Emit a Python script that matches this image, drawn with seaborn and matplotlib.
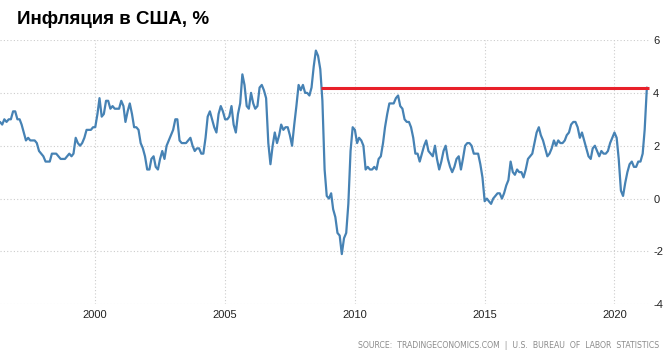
import numpy as np
import pandas as pd
import matplotlib
matplotlib.use("Agg")
import matplotlib.pyplot as plt
import matplotlib.dates as mdates
import seaborn as sns

# US CPI, year-over-year change (%), monthly, May 1996 - Apr 2021
cpi_1996 = [2.9, 2.8, 3.0, 2.9, 3.0, 3.0, 3.3, 3.3]  # May-Dec
cpi_1997 = [3.0, 3.0, 2.8, 2.5, 2.2, 2.3, 2.2, 2.2, 2.2, 2.1, 1.8, 1.7]
cpi_1998 = [1.6, 1.4, 1.4, 1.4, 1.7, 1.7, 1.7, 1.6, 1.5, 1.5, 1.5, 1.6]
cpi_1999 = [1.7, 1.6, 1.7, 2.3, 2.1, 2.0, 2.1, 2.3, 2.6, 2.6, 2.6, 2.7]
cpi_2000 = [2.7, 3.2, 3.8, 3.1, 3.2, 3.7, 3.7, 3.4, 3.5, 3.4, 3.4, 3.4]
cpi_2001 = [3.7, 3.5, 2.9, 3.3, 3.6, 3.2, 2.7, 2.7, 2.6, 2.1, 1.9, 1.6]
cpi_2002 = [1.1, 1.1, 1.5, 1.6, 1.2, 1.1, 1.5, 1.8, 1.5, 2.0, 2.2, 2.4]
cpi_2003 = [2.6, 3.0, 3.0, 2.2, 2.1, 2.1, 2.1, 2.2, 2.3, 2.0, 1.8, 1.9]
cpi_2004 = [1.9, 1.7, 1.7, 2.3, 3.1, 3.3, 3.0, 2.7, 2.5, 3.2, 3.5, 3.3]
cpi_2005 = [3.0, 3.0, 3.1, 3.5, 2.8, 2.5, 3.2, 3.6, 4.7, 4.3, 3.5, 3.4]
cpi_2006 = [4.0, 3.6, 3.4, 3.5, 4.2, 4.3, 4.1, 3.8, 2.1, 1.3, 2.0, 2.5]
cpi_2007 = [2.1, 2.4, 2.8, 2.6, 2.7, 2.7, 2.4, 2.0, 2.8, 3.5, 4.3, 4.1]
cpi_2008 = [4.3, 4.0, 4.0, 3.9, 4.2, 5.0, 5.6, 5.4, 4.9, 3.7, 1.1, 0.1]
cpi_2009 = [0.0, 0.2, -0.4, -0.7, -1.3, -1.4, -2.1, -1.5, -1.3, -0.2, 1.8, 2.7]
cpi_2010 = [2.6, 2.1, 2.3, 2.2, 2.0, 1.1, 1.2, 1.1, 1.1, 1.2, 1.1, 1.5]
cpi_2011 = [1.6, 2.1, 2.7, 3.2, 3.6, 3.6, 3.6, 3.8, 3.9, 3.5, 3.4, 3.0]
cpi_2012 = [2.9, 2.9, 2.7, 2.3, 1.7, 1.7, 1.4, 1.7, 2.0, 2.2, 1.8, 1.7]
cpi_2013 = [1.6, 2.0, 1.5, 1.1, 1.4, 1.8, 2.0, 1.5, 1.2, 1.0, 1.2, 1.5]
cpi_2014 = [1.6, 1.1, 1.5, 2.0, 2.1, 2.1, 2.0, 1.7, 1.7, 1.7, 1.3, 0.8]
cpi_2015 = [-0.1, 0.0, -0.1, -0.2, 0.0, 0.1, 0.2, 0.2, 0.0, 0.2, 0.5, 0.7]
cpi_2016 = [1.4, 1.0, 0.9, 1.1, 1.0, 1.0, 0.8, 1.1, 1.5, 1.6, 1.7, 2.1]
cpi_2017 = [2.5, 2.7, 2.4, 2.2, 1.9, 1.6, 1.7, 1.9, 2.2, 2.0, 2.2, 2.1]
cpi_2018 = [2.1, 2.2, 2.4, 2.5, 2.8, 2.9, 2.9, 2.7, 2.3, 2.5, 2.2, 1.9]
cpi_2019 = [1.6, 1.5, 1.9, 2.0, 1.8, 1.6, 1.8, 1.7, 1.7, 1.8, 2.1, 2.3]
cpi_2020 = [2.5, 2.3, 1.5, 0.3, 0.1, 0.6, 1.0, 1.3, 1.4, 1.2, 1.2, 1.4]
cpi_2021 = [1.4, 1.7, 2.6, 4.2]  # Jan-Apr

values = (cpi_1996 + cpi_1997 + cpi_1998 + cpi_1999 + cpi_2000 + cpi_2001
          + cpi_2002 + cpi_2003 + cpi_2004 + cpi_2005 + cpi_2006 + cpi_2007
          + cpi_2008 + cpi_2009 + cpi_2010 + cpi_2011 + cpi_2012 + cpi_2013
          + cpi_2014 + cpi_2015 + cpi_2016 + cpi_2017 + cpi_2018 + cpi_2019
          + cpi_2020 + cpi_2021)
dates = pd.date_range("1996-05-01", periods=len(values), freq="MS")
df = pd.DataFrame({"date": dates, "cpi": values})

# red reference level (latest reading)
ref_level = 4.2
ref_start = pd.Timestamp("2008-09-10")
ref_end = pd.Timestamp("2021-05-08")

year_ticks = [2000, 2005, 2010, 2015, 2020]
y_ticks = [-4, -2, 0, 2, 4, 6]

sns.set_style("white")
plt.rcParams["font.family"] = ["DejaVu Sans"]
plt.rcParams["axes.unicode_minus"] = False

fig = plt.figure(figsize=(6.72, 3.55), dpi=100)
ax = fig.add_axes([0.0, 1 - 304.3 / 355, 649 / 672, (304.3 - 40) / 355])

sns.lineplot(data=df, x="date", y="cpi", ax=ax, color="#4682b4", linewidth=1.6, zorder=3)
ax.hlines(ref_level, ref_start, ref_end, color="#e8202a", linewidth=2.2, zorder=4,
          clip_on=False)

ax.set_xlim(pd.Timestamp("1996-05-01"), pd.Timestamp("2021-05-01"))
ax.set_ylim(-4, 6)
ax.set_xticks([pd.Timestamp(f"{y}-01-01") for y in year_ticks])
ax.xaxis.set_major_formatter(mdates.DateFormatter("%Y"))
ax.set_yticks(y_ticks)
ax.set_yticklabels([str(v) for v in y_ticks])
ax.yaxis.tick_right()
ax.set_xlabel("")
ax.set_ylabel("")

ax.grid(True, color="#cccccc", linestyle=(0, (1, 2)), linewidth=0.8)
for s in ax.spines.values():
    s.set_visible(False)
ax.tick_params(axis="both", length=0, labelsize=8, colors="#222222")
ax.tick_params(axis="x", pad=4)
ax.tick_params(axis="y", pad=3)
for lab in ax.get_xticklabels() + ax.get_yticklabels():
    lab.set_family("Liberation Sans")

fig.text(17 / 672, 1 - 20 / 355, "Инфляция в США, %", fontsize=13.5, fontweight="bold",
         family="Liberation Sans", va="center", ha="left", color="black")
fig.text(659 / 672, 1 - 346 / 355,
         "SOURCE:  TRADINGECONOMICS.COM  |  U.S.  BUREAU  OF  LABOR  STATISTICS",
         fontsize=5.6, color="#8c8c8c", ha="right", va="center")

fig.savefig("out.png", dpi=100)
